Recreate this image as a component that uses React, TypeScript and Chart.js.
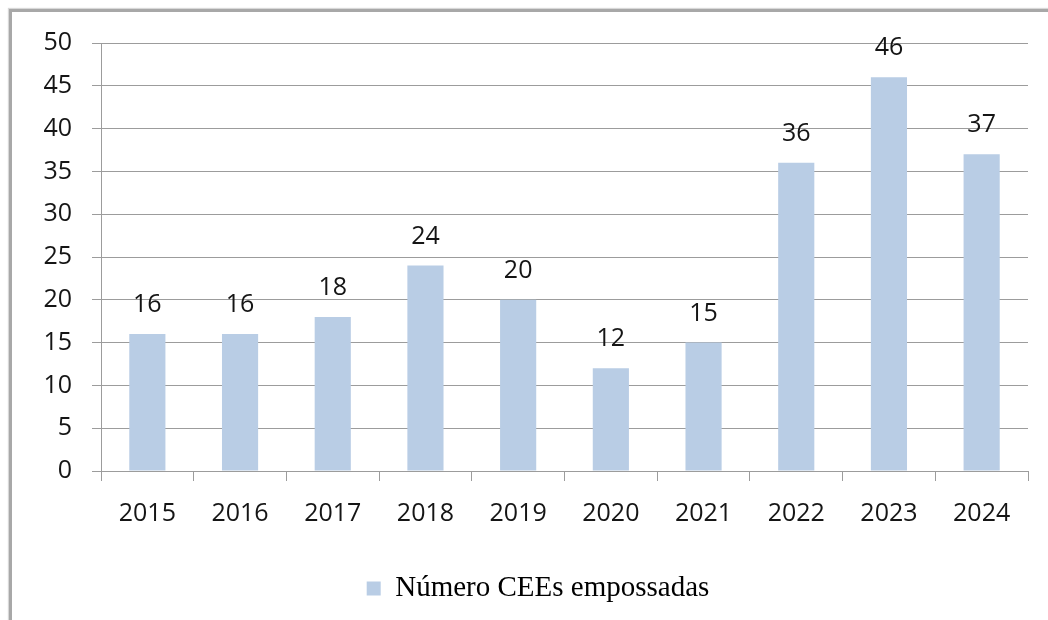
import React, { useEffect, useRef } from "react";
import { Chart, registerables } from "chart.js";

Chart.register(...registerables);

const categories = ["2015", "2016", "2017", "2018", "2019", "2020", "2021", "2022", "2023", "2024"];
const values = [16, 16, 18, 24, 20, 12, 15, 36, 46, 37];
const seriesLabel = "Número CEEs empossadas";
const yTickMin = 0;
const yTickMax = 50;
const yTickStep = 5;

const TICK_FONT = '"Open Sans", "DejaVu Sans", sans-serif';
const GRID = "#9c9c9c";

const valueLabels = {
  id: "valueLabels",
  afterDatasetsDraw(chart: any) {
    const ctx = chart.ctx;
    const meta = chart.getDatasetMeta(0);
    ctx.save();
    ctx.font = `25px ${TICK_FONT}`;
    ctx.fillStyle = "#151515";
    ctx.textAlign = "center";
    ctx.textBaseline = "alphabetic";
    meta.data.forEach((el: any, i: number) => {
      ctx.fillText(String(values[i]), el.x, el.y - 22);
    });
    ctx.restore();
  },
};

// center the legend under the plot area rather than the whole canvas
const legendShift = {
  id: "legendShift",
  afterLayout(chart: any) {
    const lg = chart.legend;
    if (!lg) return;
    const shift = 24;
    lg.left += shift;
    lg.right += shift;
  },
};

export default function App() {
  const ref = useRef<HTMLCanvasElement | null>(null);

  useEffect(() => {
    if (!ref.current) return;
    const chart = new Chart(ref.current, {
      type: "bar",
      data: {
        labels: categories,
        datasets: [
          {
            label: seriesLabel,
            data: values,
            backgroundColor: "#b9cde5",
            borderWidth: 0,
            barPercentage: 0.39,
            categoryPercentage: 1,
          },
        ],
      },
      options: {
        animation: false,
        responsive: false,
        devicePixelRatio: 1,
        layout: { padding: { top: 43, left: 0, right: 20, bottom: 7 } },
        plugins: {
          tooltip: { enabled: false },
          legend: {
            position: "bottom",
            labels: {
              font: { family: '"Liberation Serif", "Times New Roman", serif', size: 29 },
              color: "#000000",
              boxWidth: 14,
              boxHeight: 14,
              padding: 8,
            },
          },
        },
        scales: {
          x: {
            grid: {
              display: true,
              drawOnChartArea: false,
              drawTicks: true,
              tickLength: 10,
              color: GRID,
              offset: true,
            },
            border: { display: true, color: GRID, width: 1 },
            ticks: {
              font: { family: TICK_FONT, size: 25 },
              color: "#151515",
              padding: 18,
              maxRotation: 0,
            },
            afterFit(scale: any) {
              scale.height = 95;
            },
          },
          y: {
            min: yTickMin,
            max: yTickMax,
            grid: {
              color: GRID,
              tickLength: 9,
              drawTicks: true,
            },
            border: { display: true, color: GRID, width: 1 },
            ticks: {
              stepSize: yTickStep,
              font: { family: TICK_FONT, size: 25 },
              color: "#151515",
              padding: 20,
            },
            afterFit(scale: any) {
              scale.width = 101;
            },
          },
        },
      },
      plugins: [valueLabels, legendShift],
    });
    return () => chart.destroy();
  }, []);

  return (
    <div
      style={{
        position: "fixed",
        left: 0,
        top: 0,
        width: 1048,
        height: 620,
        overflow: "hidden",
        background: "#ffffff",
      }}
    >
      <div
        style={{
          position: "absolute",
          left: 9,
          top: 9,
          width: 1200,
          height: 800,
          borderLeft: "3px solid #a8a8a8",
          borderTop: "3px solid #a8a8a8",
          boxShadow: "-1px -1px 1px #d8d8d8",
        }}
      />
      <canvas
        ref={ref}
        width={1048}
        height={620}
        style={{ position: "absolute", left: 0, top: 0, width: 1048, height: 620 }}
      />
    </div>
  );
}
